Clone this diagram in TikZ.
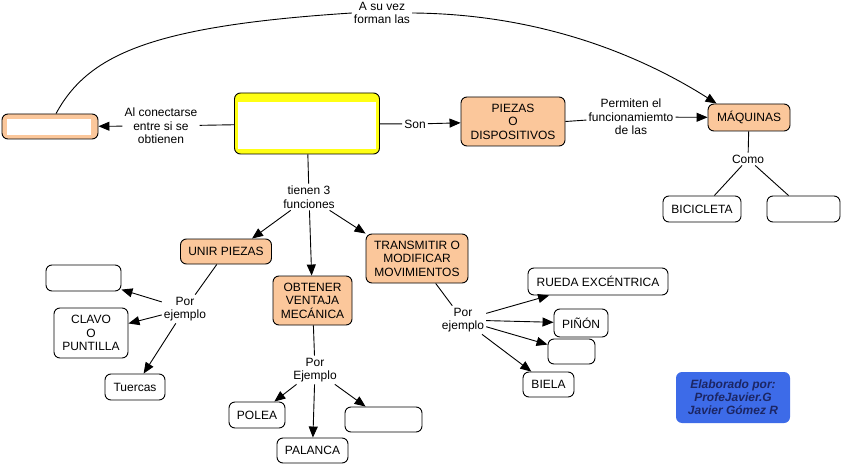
\documentclass[tikz,border=0pt]{standalone}
\usepackage{fontspec}
\setmainfont{Liberation Sans}
\usetikzlibrary{arrows.meta}
\definecolor{peach}{RGB}{251,199,155}
\definecolor{ylw}{RGB}{255,255,20}
\definecolor{bluebox}{RGB}{61,107,232}
\definecolor{navy}{RGB}{28,38,100}
\begin{document}
\begin{tikzpicture}[x=1pt,y=-1pt,
  every node/.style={font=\fontsize{12}{13.5}\selectfont, align=center},
  box/.style={draw=black, line width=0.9pt, rounded corners=6pt, inner sep=1pt},
  wbox/.style={box, fill=white},
  obox/.style={box, fill=peach},
  lbl/.style={fill=white, inner sep=2pt},
  ln/.style={line width=0.9pt},
  arr/.style={line width=0.9pt, -{Triangle[length=11pt,width=9pt]}}]
\useasboundingbox (0,0) rectangle (842,465);
% main nodes
\node[box, fill=ylw, minimum width=145, minimum height=61] (mainbox) at (307,123.5) {};
\fill[white] ([shift={(4,9)}]mainbox.north west) rectangle ([shift={(-4,-5)}]mainbox.south east);
\node[obox, minimum width=96, minimum height=25] (leftbox) at (50,126.5) {};
\fill[white] ([shift={(5,5)}]leftbox.north west) rectangle ([shift={(-7,-4)}]leftbox.south east);
\node[obox, minimum width=104, minimum height=49] (piezas) at (513,121.5) {PIEZAS\\O\\DISPOSITIVOS};
\node[obox, minimum width=82, minimum height=27] (maquinas) at (749,117.5) {MÁQUINAS};
\node[wbox, minimum width=78, minimum height=26] (bici) at (702,209) {BICICLETA};
\node[wbox, minimum width=73, minimum height=26] (emptyM) at (803.5,209) {};
\node[obox, minimum width=91, minimum height=25] (unir) at (226,251.5) {UNIR PIEZAS};
\node[obox, minimum width=79, minimum height=49] (obtener) at (312.5,300.5) {OBTENER\\VENTAJA\\MECÁNICA};
\node[obox, minimum width=102, minimum height=49] (transmitir) at (417,258.5) {TRANSMITIR O\\MODIFICAR\\MOVIMIENTOS};
\node[wbox, minimum width=75, minimum height=26] (empty1) at (83.5,278) {};
\node[wbox, minimum width=74, minimum height=50] (clavo) at (91,333) {CLAVO\\O\\PUNTILLA};
\node[wbox, minimum width=60, minimum height=26] (tuercas) at (135,387) {Tuercas};
\node[wbox, minimum width=56, minimum height=26] (polea) at (257,415) {POLEA};
\node[wbox, minimum width=71, minimum height=25] (palanca) at (312.5,450.5) {PALANCA};
\node[wbox, minimum width=77, minimum height=25] (emptyO) at (383.5,419.5) {};
\node[wbox, minimum width=140, minimum height=27] (rueda) at (598,281.5) {RUEDA EXCÉNTRICA};
\node[wbox, minimum width=54, minimum height=28] (pinon) at (581,323) {PIÑÓN};
\node[wbox, minimum width=47, minimum height=25] (emptyT) at (571.5,351.5) {};
\node[wbox, minimum width=51, minimum height=25] (biela) at (548.5,384.5) {BIELA};
\node[rounded corners=6pt, fill=bluebox, minimum width=114, minimum height=51, text=navy,
      font=\fontsize{12}{13}\selectfont\bfseries\itshape] (blue) at (733,397.5) {Elaborado por:\\ProfeJavier.G\\Javier Gómez R};
% labels
\node[lbl] (lblAl) at (161,126) {Al conectarse\\entre si se\\obtienen};
\node[lbl] (lblSon) at (415,124) {Son};
\node[lbl] (lblPerm) at (631,117) {Permiten el\\funcionamiemto\\de las};
\node[lbl] (lblComo) at (748,159) {Como};
\node[lbl] (lblA) at (382,13) {A su vez\\forman las};
\node[lbl] (lblTienen) at (309,197) {tienen 3\\funciones};
\node[lbl] (lblPor1) at (185,309) {Por\\ejemplo};
\node[lbl] (lblPor2) at (315,370) {Por\\Ejemplo};
\node[lbl] (lblPor3) at (463,320) {Por\\ejemplo};
% connectors
\draw[ln] (mainbox) -- (lblAl);
\draw[arr] (lblAl) -- (leftbox);
\draw[ln] (mainbox) -- (lblSon);
\draw[arr] (lblSon) -- (piezas);
\draw[ln] (piezas.east) -- (lblPerm);
\draw[arr] (lblPerm) -- (maquinas);
\draw[ln] (maquinas) -- (lblComo);
\draw[ln] (lblComo) -- (bici);
\draw[ln] (lblComo) -- (emptyM);
\draw[ln] (leftbox.65) .. controls (88,55) and (150,26) .. (lblA.west);
\draw[arr] (lblA.east) .. controls (540,14) and (640,55) .. ([xshift=9]maquinas.north west);
\draw[ln] (mainbox) -- (lblTienen);
\draw[arr] (lblTienen) -- ([xshift=26]unir.north);
\draw[arr] (lblTienen) -- (obtener);
\draw[arr] (lblTienen) -- (transmitir.north west);
\draw[ln] (unir) -- (lblPor1);
\draw[arr] (lblPor1) -- (empty1);
\draw[arr] (lblPor1) -- (clavo);
\draw[arr] (lblPor1) -- (tuercas);
\draw[ln] (obtener) -- (lblPor2);
\draw[arr] (lblPor2) -- (polea);
\draw[arr] (lblPor2) -- (palanca);
\draw[arr] (lblPor2) -- (emptyO);
\draw[ln] (transmitir) -- (lblPor3);
\draw[arr] (lblPor3) -- (rueda);
\draw[arr] (lblPor3) -- (pinon);
\draw[arr] (lblPor3) -- (emptyT);
\draw[arr] (lblPor3) -- (biela);
\end{tikzpicture}
\end{document}
